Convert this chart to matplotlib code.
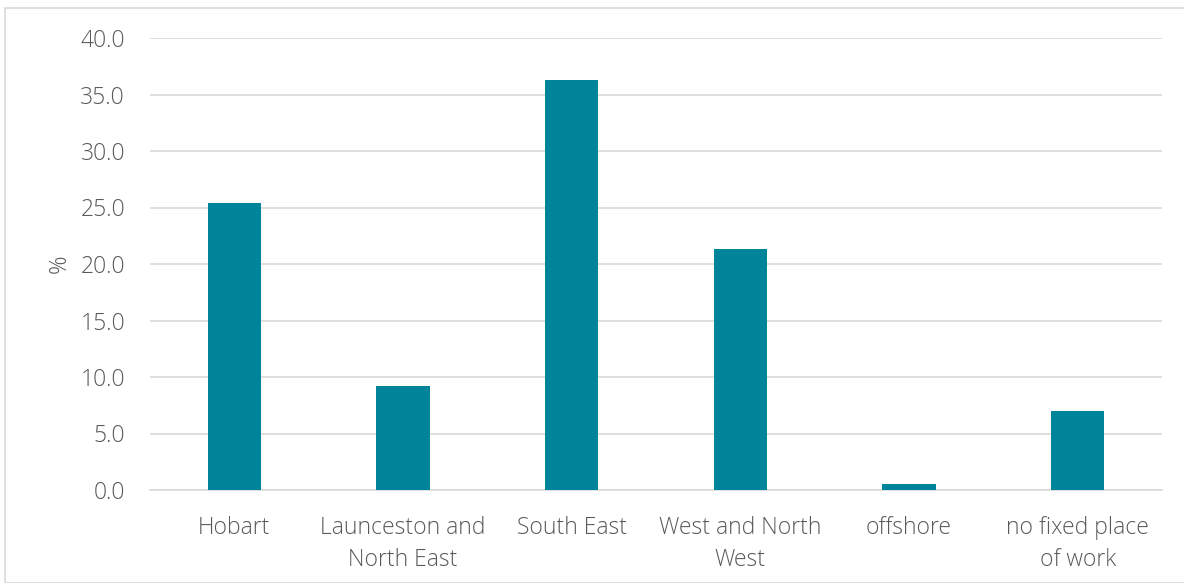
import matplotlib
matplotlib.use("Agg")
import matplotlib.pyplot as plt
from matplotlib.patches import Rectangle

categories = ["Hobart", "Launceston and\nNorth East", "South East",
              "West and North\nWest", "offshore", "no fixed place\nof work"]
values = [25.4, 9.2, 36.3, 21.3, 0.55, 7.0]
yticks = [0, 5, 10, 15, 20, 25, 30, 35, 40]

bar_color = "#00849A"
text_color = "#595959"
grid_color = "#D9D9D9"

plt.rcParams["font.family"] = ["Open Sans", "DejaVu Sans"]
plt.rcParams["font.weight"] = 300
plt.rcParams["axes.labelweight"] = 300

fig = plt.figure(figsize=(11.84, 5.83), dpi=100)
ax = fig.add_axes([150 / 1184, 1 - 490 / 583, 1012 / 1184, 452 / 583])

x = range(len(categories))
ax.bar(x, values, width=0.315, color=bar_color, zorder=3)

ax.set_xlim(-0.5, len(categories) - 0.5)
ax.set_ylim(0, 40)
ax.set_yticks(yticks)
ax.set_yticklabels([f"{v:.1f}" for v in yticks])
ax.set_xticks(list(x))
ax.set_xticklabels(categories, linespacing=1.45)

ax.grid(axis="y", color=grid_color, linewidth=1.2, zorder=0)
for side in ["top", "right", "left"]:
    ax.spines[side].set_visible(False)
ax.spines["bottom"].set_color(grid_color)
ax.spines["bottom"].set_linewidth(1.2)
ax.tick_params(axis="both", length=0, labelsize=16.5, colors=text_color)
ax.tick_params(axis="x", pad=19)
ax.tick_params(axis="y", pad=18)

ax.set_ylabel("%", fontsize=16.5, color=text_color, fontweight=300, labelpad=6)

# Light frame around the whole chart
fig.patches.append(Rectangle((5 / 1184, 0), 1 - 5 / 1184 + 0.01, 1 - 8 / 583,
                             transform=fig.transFigure, fill=False,
                             edgecolor="#D9D9D9", linewidth=1.2))

fig.savefig("out.png", dpi=100)
